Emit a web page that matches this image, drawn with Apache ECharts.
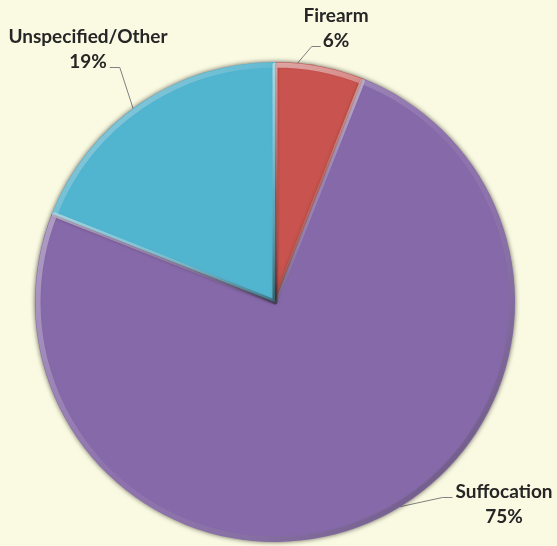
<!DOCTYPE html>
<html>
<head>
<meta charset="utf-8">
<script src="https://cdn.jsdelivr.net/npm/echarts@6/dist/echarts.min.js"></script>
<style>
  html, body { margin: 0; padding: 0; background: #faf9e1; }
  #chart { width: 557px; height: 546px; }
</style>
</head>
<body>
<div id="chart"></div>
<script>
// Share of cases by method (percent)
const categories = ['Firearm', 'Suffocation', 'Unspecified/Other'];
const shares = [6, 75, 19];
const sliceColors = ['#c9534f', '#8669a9', '#52b5d0'];

// Label placement: centre of each two-line block, and where along its slice
// (0 = start edge, 1 = end edge) the leader line leaves the pie
const labelSpots = [[336, 28], [504, 504], [88, 49]];
const leaderAt = [0.25, 0.47, 0.47];

const CENTER = [275, 302];
const R = 240;
const FONT_SIZE = 19;
const LINE_H = 25;

const data = categories.map((name, i) => ({
  name: name,
  value: shares[i],
  itemStyle: { color: sliceColors[i] }
}));

// measure label text to attach the leader lines to the text edges
const measureCtx = document.createElement('canvas').getContext('2d');
measureCtx.font = 'bold ' + FONT_SIZE + 'px Lato';
const textW = s => measureCtx.measureText(s).width;

const total = shares.reduce((a, b) => a + b, 0);
function edgePoint(i) {
  // angle measured clockwise from 12 o'clock
  let start = 0;
  for (let k = 0; k < i; k++) start += shares[k] / total * 360;
  const span = shares[i] / total * 360;
  const a = (start + span * leaderAt[i]) * Math.PI / 180;
  return [CENTER[0] + R * Math.sin(a), CENTER[1] - R * Math.cos(a)];
}

function leaderPoints(i) {
  const [cx, cy] = labelSpots[i];
  const w0 = textW(categories[i]);
  const w1 = textW(shares[i] + '%');
  const anchor = edgePoint(i);
  if (i === 0) {
    const end = [cx - w1 / 2 - 2, cy + LINE_H / 2 + 6];
    return [anchor, [end[0] - 9, end[1]], end];
  }
  if (i === 1) {
    const end = [cx - w0 / 2 - 3, cy - LINE_H / 2 + 6];
    return [anchor, [end[0] - 10, end[1]], end];
  }
  const end = [cx + w1 / 2 + 3, cy + LINE_H / 2 + 6];
  return [anchor, [end[0] + 10, end[1]], end];
}

const bevelStroke = {
  type: 'linear', x: 0, y: 0, x2: 1, y2: 1,
  colorStops: [
    { offset: 0, color: 'rgba(255,255,255,0.5)' },
    { offset: 0.5, color: 'rgba(255,255,255,0.06)' },
    { offset: 1, color: 'rgba(0,0,0,0.35)' }
  ]
};

const chart = echarts.init(document.getElementById('chart'));
chart.setOption({
  backgroundColor: '#faf9e1',
  animation: false,
  series: [
    {
      // main slices
      type: 'pie',
      center: CENTER,
      radius: [0, R],
      startAngle: 90,
      clockwise: true,
      data: data,
      itemStyle: {
        shadowBlur: 5,
        shadowColor: 'rgba(0,0,0,0.6)'
      },
      label: {
        show: true,
        formatter: '{b}\n{d}%',
        fontFamily: 'Lato',
        fontWeight: 'bold',
        fontSize: FONT_SIZE,
        lineHeight: LINE_H,
        color: '#262626',
        align: 'center',
        width: 200,
        overflow: 'none'
      },
      labelLine: {
        show: true,
        lineStyle: { color: '#808080', width: 1 }
      },
      labelLayout: function (params) {
        const i = params.dataIndex;
        const p = labelSpots[i];
        return {
          x: p[0], y: p[1],
          align: 'center', verticalAlign: 'middle',
          labelLinePoints: leaderPoints(i)
        };
      }
    },
    {
      // soft bevel along each slice's edge
      type: 'pie',
      center: CENTER,
      radius: [0, R - 3],
      startAngle: 90,
      clockwise: true,
      silent: true,
      data: data.map(d => ({ name: d.name, value: d.value })),
      itemStyle: {
        color: 'rgba(0,0,0,0)',
        borderWidth: 5,
        borderColor: bevelStroke,
        shadowBlur: 3,
        shadowColor: 'rgba(0,0,0,0.15)'
      },
      label: { show: false },
      labelLine: { show: false },
      emphasis: { disabled: true }
    }
  ]
});
</script>
</body>
</html>
